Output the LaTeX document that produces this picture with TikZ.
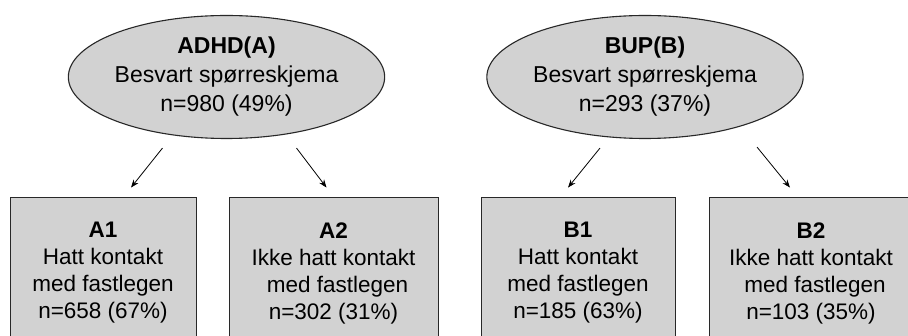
\documentclass[tikz,border=0pt]{standalone}
\usepackage{fontspec}
\setmainfont{Liberation Sans}
\usetikzlibrary{calc,shapes.geometric,arrows.meta}
\definecolor{fillgray}{RGB}{210,210,210}
\definecolor{edgegray}{RGB}{40,40,40}
\tikzset{
  oval/.style={ellipse, draw=edgegray, line width=1.1pt, fill=fillgray,
    minimum width=291pt, minimum height=123pt, inner sep=0pt, align=center,
    font=\fontsize{23}{29}\selectfont},
  groupbox/.style={rectangle, draw=edgegray, line width=0.9pt, fill=fillgray,
    minimum height=152pt, inner sep=0pt, align=center,
    font=\fontsize{22.5}{27}\selectfont},
  arr/.style={draw=black, line width=0.8pt, -{Stealth[length=8pt,width=6pt]}}
}
\begin{document}
\begin{tikzpicture}[x=1pt,y=-1pt]
\useasboundingbox (0,0) rectangle (908,336);
\fill[white] (0,0) rectangle (908,336);
\clip (0,0) rectangle (908,336);

\node[oval] (A) at (226.5,77) {\textbf{ADHD(A)}\\Besvart spørreskjema\\n=980 (49\%)};
\node[oval] (B) at (645,77) {\textbf{BUP(B)}\\Besvart spørreskjema\\n=293 (37\%)};

\node[groupbox, minimum width=186pt] (A1) at (103,273) {\textbf{A1}\\Hatt kontakt\\med fastlegen\\n=658 (67\%)};
\node[groupbox, minimum width=209pt] (A2) at (333.5,273) {\textbf{A2}\\Ikke hatt kontakt\\\hspace*{8pt}med fastlegen\\n=302 (31\%)};
\node[groupbox, minimum width=194pt] (B1) at (578,273) {\textbf{B1}\\Hatt kontakt\\med fastlegen\\n=185 (63\%)};
\node[groupbox, minimum width=204pt] (B2) at (811,273) {\textbf{B2}\\Ikke hatt kontakt\\\hspace*{8pt}med fastlegen\\n=103 (35\%)};

\draw[arr] ($(A.south)+(-64,9)$) -- ($(A1.north)+(28,-9)$);
\draw[arr] ($(A.south)+(70,9)$) -- ($(A2.north)+(-7,-9)$);
\draw[arr] ($(B.south)+(-45,9)$) -- ($(B1.north)+(-10,-9)$);
\draw[arr] ($(B.south)+(112,8)$) -- ($(B2.north)+(-21,-9)$);
\end{tikzpicture}
\end{document}
